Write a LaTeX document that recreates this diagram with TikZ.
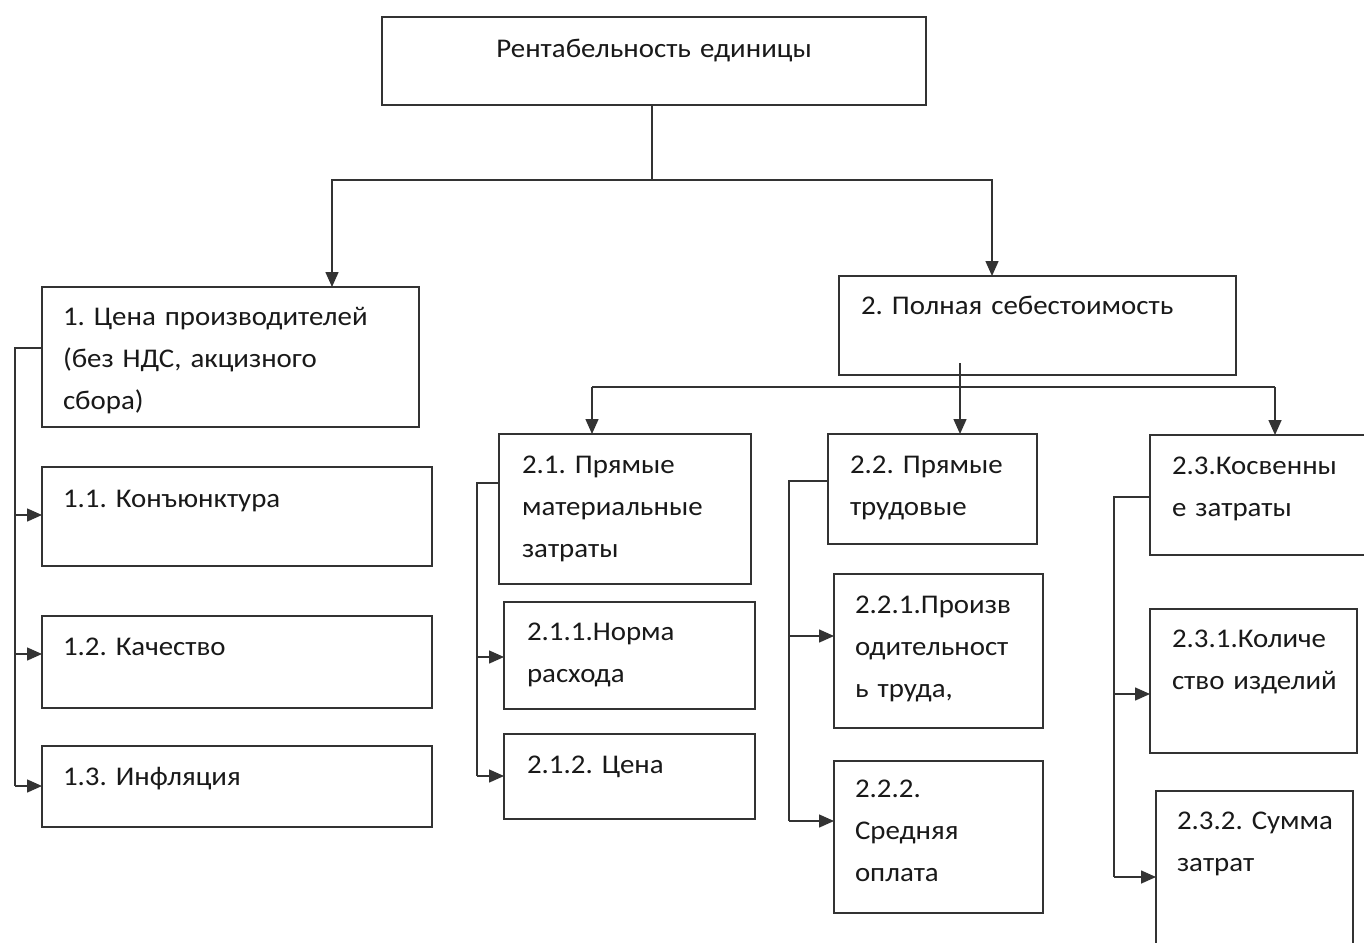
\documentclass[tikz,border=0pt]{standalone}
\usepackage{fontspec}
\setmainfont[FakeStretch=1.07]{Carlito}
\usetikzlibrary{arrows.meta}
\begin{document}
\frenchspacing
\begin{tikzpicture}[x=1pt,y=-1pt,
  box/.style={draw=black!80, line width=1.7pt, anchor=north west, inner sep=0pt, outer sep=0pt, minimum width=#1},
  txt/.style={anchor=base west, inner sep=0pt, outer sep=0pt, align=left, text width=#1, text=black!90,
    font=\fontsize{27}{42}\selectfont\frenchspacing},
  line/.style={draw=black!80, line width=1.5pt},
  arr/.style={line, -{Triangle[length=15pt,width=13pt]}}
]
\useasboundingbox[fill=white] (0,0) rectangle (1364,942);
% boxes
\node[box=544pt, minimum height=88pt]  (top)  at (382,17)  {};
\node[box=377pt, minimum height=140pt] (b1)   at (42,287)  {};
\node[box=390pt, minimum height=99pt]  (b11)  at (42,467)  {};
\node[box=390pt, minimum height=92pt]  (b12)  at (42,616)  {};
\node[box=390pt, minimum height=81pt]  (b13)  at (42,746)  {};
\node[box=397pt, minimum height=99pt]  (b2)   at (839,276) {};
\node[box=252pt, minimum height=150pt] (b21)  at (499,434) {};
\node[box=251pt, minimum height=107pt] (b211) at (504,602) {};
\node[box=251pt, minimum height=85pt]  (b212) at (504,734) {};
\node[box=209pt, minimum height=110pt] (b22)  at (828,434) {};
\node[box=209pt, minimum height=154pt] (b221) at (834,574) {};
\node[box=209pt, minimum height=152pt] (b222) at (834,761) {};
\node[box=240pt, minimum height=120pt] (b23)  at (1150,435) {};
\node[box=207pt, minimum height=144pt] (b231) at (1150,609) {};
\node[box=197pt, minimum height=180pt] (b232) at (1156,791) {};
% texts
\node[txt=520pt, anchor=base, align=center] (ttop) at (654,57) {Рентабельность единицы};
\node[txt=350pt] (t1)   at (63,325)   {1. Цена производителей\\(без НДС, акцизного\\сбора)};
\node[txt=360pt] (t11)  at (63,507)   {1.1. Конъюнктура};
\node[txt=360pt] (t12)  at (63,655)   {1.2. Качество};
\node[txt=360pt] (t13)  at (63,785)   {1.3. Инфляция};
\node[txt=370pt] (t2)   at (861,314)  {2. Полная себестоимость};
\node[txt=225pt] (t21)  at (522,473)  {2.1. Прямые\\материальные\\затраты};
\node[txt=225pt] (t211) at (527,640)  {2.1.1.Норма\\расхода};
\node[txt=225pt] (t212) at (527,773)  {2.1.2. Цена};
\node[txt=185pt] (t22)  at (850,473)  {2.2. Прямые\\трудовые};
\node[txt=185pt] (t221) at (855,613)  {2.2.1.Произв\\одительност\\ь труда,};
\node[txt=185pt] (t222) at (855,797)  {2.2.2.\\Средняя\\оплата};
\node[txt=185pt] (t23)  at (1172,474) {2.3.Косвенны\\е затраты};
\node[txt=185pt] (t231) at (1172,647) {2.3.1.Количе\\ство изделий};
\node[txt=175pt] (t232) at (1177,829) {2.3.2. Сумма\\затрат};
% top level connectors
\coordinate (j0) at (652,180);
\coordinate (a1) at (332,180);
\coordinate (a2) at (992,180);
\draw[line] (top.south -| j0) -- (j0);
\draw[arr] (j0) -- (a1) -- (a1 |- b1.north);
\draw[arr] (j0) -- (a2) -- (a2 |- b2.north);
% box 2 children
\coordinate (c2) at (960,363);
\coordinate (h21) at (592,387);
\coordinate (h23) at (1275,387);
\draw[line] (h21) -- (h23);
\draw[arr] (c2) -- (c2 |- b22.north);
\draw[arr] (h21) -- (h21 |- b21.north);
\draw[arr] (h23) -- (h23 |- b23.north);
% bracket 1
\coordinate (l1) at (15,348);
\coordinate (r11) at (15,515);
\coordinate (r12) at (15,654);
\coordinate (r13) at (15,786);
\draw[line] (l1 -| b1.west) -- (l1) -- (r13);
\draw[arr] (r11) -- (r11 -| b11.west);
\draw[arr] (r12) -- (r12 -| b12.west);
\draw[arr] (r13) -- (r13 -| b13.west);
% bracket 2.1
\coordinate (l21) at (477,483);
\coordinate (r211) at (477,657);
\coordinate (r212) at (477,776);
\draw[line] (l21 -| b21.west) -- (l21) -- (r212);
\draw[arr] (r211) -- (r211 -| b211.west);
\draw[arr] (r212) -- (r212 -| b212.west);
% bracket 2.2
\coordinate (l22) at (789,481);
\coordinate (r221) at (789,636);
\coordinate (r222) at (789,821);
\draw[line] (l22 -| b22.west) -- (l22) -- (r222);
\draw[arr] (r221) -- (r221 -| b221.west);
\draw[arr] (r222) -- (r222 -| b222.west);
% bracket 2.3
\coordinate (l23) at (1114,497);
\coordinate (r231) at (1114,694);
\coordinate (r232) at (1114,877);
\draw[line] (l23 -| b23.west) -- (l23) -- (r232);
\draw[arr] (r231) -- (r231 -| b231.west);
\draw[arr] (r232) -- (r232 -| b232.west);
\end{tikzpicture}
\end{document}
